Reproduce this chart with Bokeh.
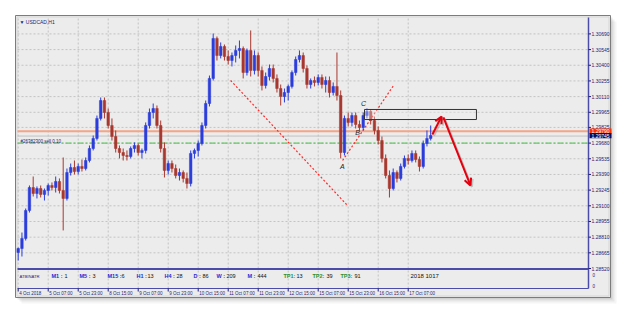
from bokeh.plotting import figure
from bokeh.models import Range1d, Arrow, OpenHead, ColumnDataSource
from bokeh.core.properties import value
from bokeh.embed import file_html
from bokeh.resources import INLINE

# ---------------- data (USDCAD, H1; one candle per 2 hours) ----------------
hours = list(range(0, 221, 2))  # hours since 4 Oct 2018 15:00 (trading hours)

opens = [1.28668, 1.28705, 1.28798, 1.29057, 1.29269, 1.29214, 1.29260, 1.29205, 1.29242, 1.29288,
         1.29269, 1.29325, 1.29242, 1.29168, 1.29408, 1.29454, 1.29417, 1.29464, 1.29445, 1.29519,
         1.29630, 1.29723, 1.29908, 1.30074, 1.29963, 1.29843, 1.29741, 1.29630, 1.29593, 1.29565,
         1.29556, 1.29630, 1.29658, 1.29593, 1.29612, 1.29843, 1.29963, 1.30000, 1.29843, 1.29630,
         1.29427, 1.29491, 1.29445, 1.29380, 1.29408, 1.29353, 1.29306, 1.29584, 1.29612, 1.29676,
         1.29843, 1.30046, 1.30278, 1.30648, 1.30490, 1.30574, 1.30481, 1.30444, 1.30490, 1.30537,
         1.30555, 1.30333, 1.30537, 1.30352, 1.30490, 1.30352, 1.30213, 1.30296, 1.30370, 1.30278,
         1.30185, 1.30111, 1.30148, 1.30204, 1.30333, 1.30453, 1.30490, 1.30370, 1.30222, 1.30259,
         1.30241, 1.30287, 1.30222, 1.30259, 1.30148, 1.30204, 1.30120, 1.29593, 1.29908, 1.29871,
         1.29935, 1.29852, 1.29824, 1.29935, 1.29972, 1.29889, 1.29797, 1.29704, 1.29538, 1.29380,
         1.29260, 1.29408, 1.29353, 1.29464, 1.29538, 1.29519, 1.29584, 1.29528, 1.29464, 1.29676,
         1.29723]
highs = [1.28714, 1.28853, 1.29075, 1.29288, 1.29371, 1.29279, 1.29288, 1.29260, 1.29306, 1.29316,
         1.29371, 1.29353, 1.29547, 1.29445, 1.29491, 1.29519, 1.29491, 1.29528, 1.29547, 1.29658,
         1.29750, 1.29935, 1.30102, 1.30102, 1.30000, 1.29908, 1.29797, 1.29658, 1.29630, 1.29612,
         1.29649, 1.29686, 1.29676, 1.29630, 1.29871, 1.30000, 1.30046, 1.30028, 1.29889, 1.29686,
         1.29519, 1.29519, 1.29482, 1.29445, 1.29427, 1.29408, 1.29612, 1.29630, 1.29704, 1.29871,
         1.30074, 1.30305, 1.30694, 1.30666, 1.30611, 1.30592, 1.30537, 1.30518, 1.30583, 1.30629,
         1.30574, 1.30555, 1.30722, 1.30537, 1.30518, 1.30389, 1.30333, 1.30407, 1.30407, 1.30315,
         1.30222, 1.30185, 1.30222, 1.30352, 1.30481, 1.30537, 1.30518, 1.30398, 1.30278, 1.30296,
         1.30315, 1.30315, 1.30296, 1.30296, 1.30241, 1.30518, 1.30167, 1.29935, 1.29963, 1.29963,
         1.29963, 1.29889, 1.29963, 1.30000, 1.29991, 1.29926, 1.29834, 1.29741, 1.29575, 1.29427,
         1.29445, 1.29427, 1.29491, 1.29565, 1.29575, 1.29612, 1.29612, 1.29556, 1.29704, 1.29797,
         1.29843]
lows = [1.28594, 1.28631, 1.28779, 1.29038, 1.29186, 1.29168, 1.29177, 1.29149, 1.29195, 1.29242,
        1.29223, 1.29214, 1.28872, 1.29149, 1.29380, 1.29390, 1.29390, 1.29417, 1.29427, 1.29501,
        1.29612, 1.29704, 1.29889, 1.29908, 1.29815, 1.29704, 1.29593, 1.29538, 1.29519, 1.29519,
        1.29538, 1.29593, 1.29565, 1.29538, 1.29584, 1.29815, 1.29908, 1.29815, 1.29593, 1.29362,
        1.29390, 1.29408, 1.29353, 1.29334, 1.29316, 1.29260, 1.29279, 1.29538, 1.29556, 1.29658,
        1.29815, 1.30019, 1.30259, 1.30444, 1.30463, 1.30444, 1.30407, 1.30389, 1.30426, 1.30463,
        1.30278, 1.30305, 1.30296, 1.30315, 1.30296, 1.30167, 1.30185, 1.30259, 1.30241, 1.30148,
        1.30028, 1.30056, 1.30074, 1.30185, 1.30305, 1.30426, 1.30333, 1.30185, 1.30185, 1.30204,
        1.30213, 1.30185, 1.30148, 1.30102, 1.30120, 1.30074, 1.29538, 1.29565, 1.29834, 1.29834,
        1.29815, 1.29797, 1.29797, 1.29908, 1.29852, 1.29760, 1.29667, 1.29501, 1.29353, 1.29177,
        1.29242, 1.29316, 1.29334, 1.29445, 1.29482, 1.29501, 1.29501, 1.29417, 1.29445, 1.29649,
        1.29704]
closes = [1.28705, 1.28798, 1.29057, 1.29269, 1.29214, 1.29260, 1.29205, 1.29242, 1.29288, 1.29269,
          1.29325, 1.29242, 1.29168, 1.29408, 1.29454, 1.29417, 1.29464, 1.29445, 1.29519, 1.29630,
          1.29723, 1.29908, 1.30074, 1.29963, 1.29843, 1.29741, 1.29630, 1.29593, 1.29565, 1.29556,
          1.29630, 1.29658, 1.29593, 1.29612, 1.29843, 1.29963, 1.30000, 1.29843, 1.29630, 1.29427,
          1.29491, 1.29445, 1.29380, 1.29408, 1.29353, 1.29306, 1.29584, 1.29612, 1.29676, 1.29843,
          1.30046, 1.30278, 1.30648, 1.30490, 1.30574, 1.30481, 1.30444, 1.30490, 1.30537, 1.30555,
          1.30333, 1.30537, 1.30352, 1.30490, 1.30352, 1.30213, 1.30296, 1.30370, 1.30278, 1.30185,
          1.30111, 1.30148, 1.30204, 1.30333, 1.30453, 1.30490, 1.30370, 1.30222, 1.30259, 1.30241,
          1.30287, 1.30222, 1.30259, 1.30148, 1.30204, 1.30120, 1.29593, 1.29908, 1.29871, 1.29935,
          1.29852, 1.29824, 1.29935, 1.29972, 1.29889, 1.29797, 1.29704, 1.29538, 1.29380, 1.29260,
          1.29408, 1.29353, 1.29464, 1.29538, 1.29519, 1.29584, 1.29528, 1.29464, 1.29676, 1.29723,
          1.29750]

price_ticks = [1.28520, 1.28665, 1.28810, 1.28955, 1.29100, 1.29245, 1.29390, 1.29535,
               1.29680, 1.29825, 1.29965, 1.30110, 1.30255, 1.30400, 1.30545, 1.30690]
price_labels = ["1.28520", "1.28665", "1.28810", "1.28955", "1.29100", "1.29245", "1.29390", "1.29535",
                "1.29680", "1.29825", "1.29965", "1.30110", "1.30255", "1.30400", "1.30545", "1.30690"]
time_ticks = [0, 16, 32, 48, 64, 80, 96, 112, 128, 144, 160, 176, 192, 208]
time_labels = ["4 Oct 2018", "5 Oct 07:00", "5 Oct 23:00", "8 Oct 15:00", "9 Oct 07:00", "9 Oct 23:00",
               "10 Oct 15:00", "11 Oct 07:00", "11 Oct 23:00", "12 Oct 15:00", "15 Oct 07:00",
               "15 Oct 23:00", "16 Oct 15:00", "17 Oct 07:00"]

order_price = 1.29790
bid_price = 1.29745
sell_price = 1.29680

# trader's drawings (hour, price)
trend1_x = [113.3, 175.6]
trend1_y = [1.30259, 1.29103]
trend2_x = [173.0, 200.2]
trend2_y = [1.29519, 1.30213]
zone_x = [184.7, 244.4]
zone_y = [1.29898, 1.29991]
arrow_up = [220.9, 1.29759, 225.8, 1.29926]
arrow_dn = [226.8, 1.29917, 241.2, 1.29288]
abc_x = [172.9, 181.0, 184.2]
abc_y = [1.29463, 1.29778, 1.30046]
abc_text = ["A", "B", "C"]

strip_labels = ["M1 :", "M5 :", "M15 :", "H1 :", "H4 :", "D :", "W :", "M :", "TP1:", "TP2:", "TP3:"]
strip_values = ["1", "3", "6", "13", "28", "86", "209", "444", "13", "39", "91"]

# ---------------- layout helpers (pixel -> data) ----------------
PX0, PXH = 17.7, 1.875
PTOP, PPX = 1.30999, 0.0000925


def X(px):
    return (px - PX0) / PXH


def Y(py):
    return PTOP - PPX * py


FONT = value("Liberation Sans")
NAVY = "#1c1c78"

p = figure(width=625, height=314, output_backend="svg", toolbar_location=None, title=None,
           x_range=Range1d(X(0), X(625)), y_range=Range1d(Y(314), Y(0)),
           x_axis_location=None, y_axis_location=None, min_border=0)
p.outline_line_color = None
p.background_fill_color = "white"
p.border_fill_color = "white"
p.grid.visible = False

# window shadow and frame
for off, a in [(6, 0.04), (4, 0.06), (2, 0.09)]:
    p.quad(left=X(15 + off), right=X(610 + off), top=Y(15 + off), bottom=Y(297 + off),
           fill_color="black", fill_alpha=a, line_color=None)
p.quad(left=X(15), right=X(610), top=Y(15), bottom=Y(297),
       fill_color="#ececec", line_color="#7c7c7c", line_width=1)
p.quad(left=X(16.5), right=X(608.5), top=Y(16.5), bottom=Y(295.5),
       fill_color=None, line_color="#d6d6d6", line_width=1)

# grid
n = len(price_ticks)
p.segment(x0=[X(17)] * n, x1=[X(588)] * n, y0=price_ticks, y1=price_ticks,
          line_color="#c3c3c3", line_dash="2 2", line_width=1)
m = len(time_ticks)
p.segment(x0=time_ticks, x1=time_ticks, y0=[Y(288)] * m, y1=[Y(17)] * m,
          line_color="#c3c3c3", line_dash="2 2", line_width=1)

# price levels
p.line(x=[X(17), X(588)], y=[bid_price] * 2, line_color="#c2c2c2", line_width=1)
p.line(x=[X(17), X(588)], y=[order_price] * 2, line_color="#f5a486", line_width=2)
p.line(x=[X(17), X(588)], y=[sell_price] * 2, line_color="#3ec43e", line_width=1, line_dash="6 2 2 2")

# trend lines
p.line(x=trend1_x, y=trend1_y, line_color="#ff2a2a", line_width=1.2, line_dash="2 2")
p.line(x=trend2_x, y=trend2_y, line_color="#ff2a2a", line_width=1.2, line_dash="2 2")

# candles
up = [c >= o for o, c in zip(opens, closes)]
colors = ["#2b3ddb" if u else "#a8382f" for u in up]
src = ColumnDataSource(dict(x=hours, o=opens, h=highs, l=lows, c=closes,
                            top=[max(o, c) for o, c in zip(opens, closes)],
                            bot=[min(o, c) for o, c in zip(opens, closes)], col=colors))
p.segment(x0="x", x1="x", y0="l", y1="h", line_color="col", line_width=1, source=src)
p.vbar(x="x", width=1.35, top="top", bottom="bot", fill_color="col", line_color="col",
       line_width=0.5, source=src)

# zone rectangle
p.quad(left=zone_x[0], right=zone_x[1], bottom=zone_y[0], top=zone_y[1],
       fill_color="#f2f2f2", fill_alpha=0.35, line_color="#333333", line_width=1)

# ABC labels
p.text(x=abc_x, y=abc_y, text=abc_text, text_font=FONT, text_font_size="7px",
       text_font_style="italic", text_color="#222222", text_align="center", text_baseline="middle")

# arrows (shadow + red)
for arr in (arrow_up, arrow_dn):
    p.add_layout(Arrow(end=OpenHead(size=7, line_color="#9a9a9a", line_width=2, line_alpha=0.5),
                       x_start=arr[0] + 0.8, y_start=arr[1] - 0.00012,
                       x_end=arr[2] + 0.8, y_end=arr[3] - 0.00012,
                       line_color="#9a9a9a", line_alpha=0.5, line_width=2))
    p.add_layout(Arrow(end=OpenHead(size=7, line_color="#e4000f", line_width=2),
                       x_start=arr[0], y_start=arr[1], x_end=arr[2], y_end=arr[3],
                       line_color="#e4000f", line_width=2))

# indicator strip and axes lines
p.line(x=[X(17), X(588)], y=[Y(268.5)] * 2, line_color="#4b4ba8", line_width=2)
p.line(x=[X(17), X(588)], y=[Y(288)] * 2, line_color="#4b4ba8", line_width=1)
p.line(x=[X(588), X(588)], y=[Y(17), Y(288)], line_color="#4b4ba8", line_width=1.5)
p.segment(x0=[X(588)] * n, x1=[X(590.5)] * n, y0=price_ticks, y1=price_ticks,
          line_color=NAVY, line_width=1)
p.segment(x0=time_ticks, x1=time_ticks, y0=[Y(288)] * m, y1=[Y(291)] * m,
          line_color=NAVY, line_width=1)

# price labels
p.text(x=[X(591)] * n, y=price_ticks, text=price_labels, text_font=FONT, text_font_size="5px",
       text_color=NAVY, text_align="left", text_baseline="middle")
hb = 2.6 * PPX
p.quad(left=X(589), right=X(611), top=order_price + hb, bottom=order_price - hb,
       fill_color="#ff3300", line_color=None)
p.quad(left=X(589), right=X(611), top=bid_price + hb + 0.5 * PPX, bottom=bid_price - hb + 0.5 * PPX,
       fill_color="#0b0b5e", line_color=None)
p.text(x=[X(591), X(591)], y=[order_price, bid_price + 0.5 * PPX], text=["1.29790", "1.29745"],
       text_font=FONT, text_font_size="5px", text_color="white", text_align="left",
       text_baseline="middle")
p.text(x=[X(592), X(592)], y=[Y(274), Y(285)], text=["0", "0"], text_font=FONT,
       text_font_size="4.5px", text_color=NAVY, text_align="left", text_baseline="middle")

# time labels
p.text(x=time_ticks, y=[Y(292.5)] * m, text=time_labels, x_offset=1, text_font=FONT,
       text_font_size="4.5px", text_color=NAVY, text_align="left", text_baseline="middle")

# header and order texts
p.text(x=[X(19)], y=[Y(21.5)], text=["\u25bc USDCAD,H1"], text_font=FONT, text_font_size="5px",
       text_color=NAVY, text_align="left", text_baseline="middle")
p.text(x=[X(20)], y=[Y(140.5)], text=["#26382300 sell 0.10"], text_font=FONT,
       text_font_size="4.5px", text_color=NAVY, text_align="left", text_baseline="middle")

# strip texts
label_px = [51, 79, 107, 136, 164, 193, 216, 247, 283, 312, 340]
value_px = [64, 92, 121, 147, 176, 202, 226, 257, 296, 326, 354]
label_col = ["#2a2ad0"] * 8 + ["#2f8f2f"] * 3
ys = [Y(275.5)] * len(label_px)
p.text(x=[X(v) for v in label_px], y=ys, text=strip_labels, text_font=FONT, text_font_size="5.5px",
       text_font_style="bold", text_color=label_col, text_align="left", text_baseline="middle")
p.text(x=[X(v) for v in value_px], y=ys, text=strip_values, text_font=FONT, text_font_size="5.5px",
       text_color="#111111", text_align="left", text_baseline="middle")
p.text(x=[X(19)], y=[Y(275.5)], text=["ATBINATR"], text_font=FONT, text_font_size="4.2px",
       text_color=NAVY, text_align="left", text_baseline="middle")
p.text(x=[X(410)], y=[Y(275.5)], text=["2018 1017"], text_font=FONT, text_font_size="6px",
       text_color="#111111", text_align="left", text_baseline="middle")

open("out.html", "w").write(file_html(p, INLINE))
